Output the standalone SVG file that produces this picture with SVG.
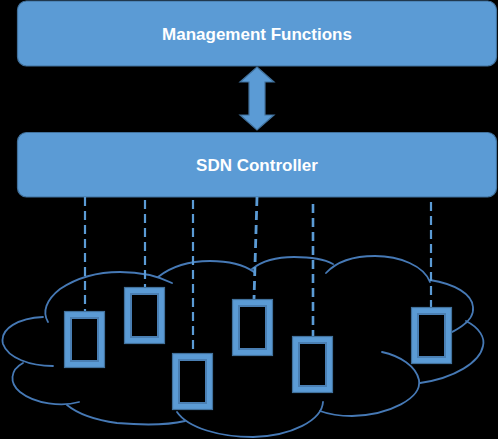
<svg xmlns="http://www.w3.org/2000/svg" width="498" height="439" viewBox="0 0 498 439">
<defs>
<style>
.box{fill:#5B9BD5;stroke:#41719C;stroke-width:1.2}
.lbl{font-family:"Liberation Sans",Arial,sans-serif;font-weight:bold;font-size:17px;fill:#FFFFFF;text-anchor:middle}
.dash{stroke:#5B9BD5;stroke-width:2.2;stroke-dasharray:9 5;fill:none}
.cloud{fill:none;stroke:#4679B5;stroke-width:1.8;stroke-linecap:round}
.band{fill:none;stroke:#5B9BD5;stroke-width:7}
.edge{fill:none;stroke:#41719C;stroke-width:1.2}
.edgein{fill:none;stroke:#4A7FB3;stroke-width:2}
</style>
</defs>
<rect width="498" height="439" fill="#000000"/>
<g id="management-functions">
<rect class="box" x="17.5" y="1" width="479" height="65" rx="9"/>
<text class="lbl" x="257" y="40">Management Functions</text>
</g>
<g id="sdn-controller">
<rect class="box" x="17.5" y="132.5" width="479" height="64.5" rx="9"/>
<text class="lbl" x="257" y="171">SDN Controller</text>
</g>
<g id="cloud">
<path class="cloud" d="M48,322 C42,312 46,300 60,289 C78,277 100,272 120,272 C140,272 158,276 172,283"/>
<path class="cloud" d="M158,277 C172,266 190,261 210,261 C228,261 244,265 254,272"/>
<path class="cloud" d="M252,269 C262,261 278,257 294,257 C310,257 324,259 333,264"/>
<path class="cloud" d="M326,273 C338,260 355,256 375,256 C400,256 424,266 430,282"/>
<path class="cloud" d="M430,280 C455,284 472,294 473,307 C474,315 468,322 462,326 C458,329 454,331 450,333"/>
<path class="cloud" d="M466,321 C480,328 485,338 483,346 C480,362 455,378 420,383"/>
<path class="cloud" d="M382,352 C400,356 416,366 419,380 C422,398 390,415 352,416 C338,416 328,414 320,411"/>
<path class="cloud" d="M323,402 C322,420 292,436 253,437 C220,437 188,428 177,412"/>
<path class="cloud" d="M185,421 C168,425 140,425 117,423 C95,420 78,414 67,405"/>
<path class="cloud" d="M79,402 C62,407 35,404 20,392 C9,383 10,370 23,363"/>
<path class="cloud" d="M53,366 C30,366 8,358 3,344 C-1,328 20,318 43,317"/>
</g>
<g id="connectors">
<path class="dash" d="M85,197 L85,311"/>
<path class="dash" d="M145,200 L145,287"/>
<path class="dash" d="M193,200 L193,353"/>
<path class="dash" d="M257,197 L254,299" style="stroke-width:2.8"/>
<path class="dash" d="M313,204 L313,336" style="stroke-width:2.6"/>
<path class="dash" d="M431,202 L431,307"/>
<polygon class="box" points="257,67 274,82 265,82 265,115 274,115 257,130 240,115 249,115 249,82 240,82"/>
</g>
<g id="device-1">
<rect class="band" x="67.5" y="314.5" width="34" height="50"/>
<rect class="edge" x="64.5" y="311.5" width="40" height="56"/>
<rect class="edgein" x="71" y="318" width="27" height="43"/>
</g>
<g id="device-2">
<rect class="band" x="127.5" y="290.5" width="34" height="50"/>
<rect class="edge" x="124.5" y="287.5" width="40" height="56"/>
<rect class="edgein" x="131" y="294" width="27" height="43"/>
</g>
<g id="device-3">
<rect class="band" x="175.5" y="356.5" width="34" height="50"/>
<rect class="edge" x="172.5" y="353.5" width="40" height="56"/>
<rect class="edgein" x="179" y="360" width="27" height="43"/>
</g>
<g id="device-4">
<rect class="band" x="235.5" y="302.5" width="34" height="50"/>
<rect class="edge" x="232.5" y="299.5" width="40" height="56"/>
<rect class="edgein" x="239" y="306" width="27" height="43"/>
</g>
<g id="device-5">
<rect class="band" x="295.5" y="339.5" width="34" height="50"/>
<rect class="edge" x="292.5" y="336.5" width="40" height="56"/>
<rect class="edgein" x="299" y="343" width="27" height="43"/>
</g>
<g id="device-6">
<rect class="band" x="414.5" y="310.5" width="34" height="50"/>
<rect class="edge" x="411.5" y="307.5" width="40" height="56"/>
<rect class="edgein" x="418" y="314" width="27" height="43"/>
</g>
</svg>
